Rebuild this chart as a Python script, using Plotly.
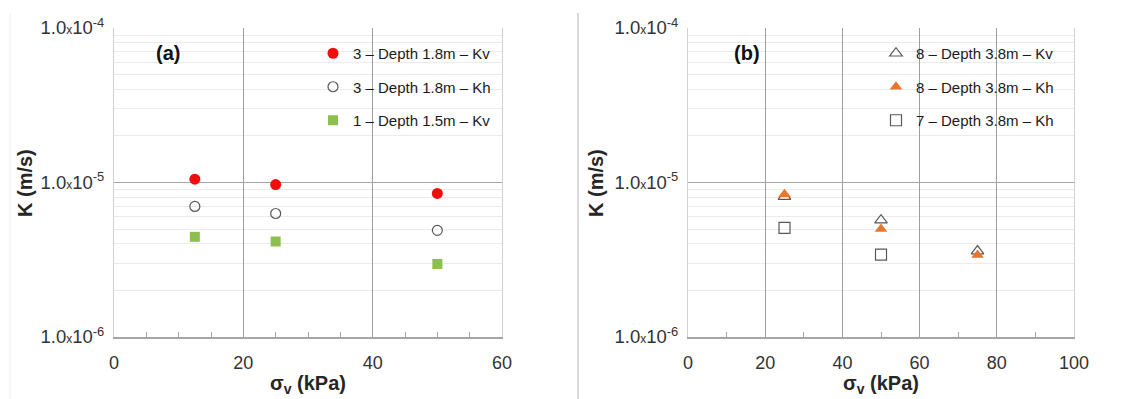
import plotly.graph_objects as go

# ---------------- data ----------------
x_a = [12.5, 25, 50]
kv_3_18 = [1.05e-5, 9.7e-6, 8.5e-6]
kh_3_18 = [7.0e-6, 6.3e-6, 4.9e-6]
kv_1_15 = [4.45e-6, 4.15e-6, 2.97e-6]

x_b = [25, 50, 75]
kv_8_38 = [8.1e-6, 5.7e-6, 3.6e-6]
kh_8_38 = [8.4e-6, 5.0e-6, 3.4e-6]
x_b7 = [25, 50]
kh_7_38 = [5.08e-6, 3.41e-6]

names_a = ["3 \u2013 Depth 1.8m \u2013 Kv", "3 \u2013 Depth 1.8m \u2013 Kh", "1 \u2013 Depth 1.5m \u2013 Kv"]
names_b = ["8 \u2013 Depth 3.8m \u2013 Kv", "8 \u2013 Depth 3.8m \u2013 Kh", "7 \u2013 Depth 3.8m \u2013 Kh"]

y_tickvals = [1e-6, 1e-5, 1e-4]
y_ticktext = ["1.0<span style='font-size:12px'>x</span>10<sup>-6</sup>",
              "1.0<span style='font-size:12px'>x</span>10<sup>-5</sup>",
              "1.0<span style='font-size:12px'>x</span>10<sup>-4</sup>"]
minor_vals = [m * 10.0 ** e for e in (-6, -5) for m in range(2, 10)]

FONT = "Liberation Sans, Arial, sans-serif"
RED = "#F20D0D"
GREEN = "#8DBF4E"
ORANGE = "#E5772F"
GRAY = "#595959"

fig = go.Figure()

# left panel
fig.add_trace(go.Scatter(x=x_a, y=kv_3_18, mode="markers", name=names_a[0],
                         marker=dict(symbol="circle", size=11, color=RED),
                         xaxis="x", yaxis="y", legend="legend", legendgroup="a1"))
fig.add_trace(go.Scatter(x=x_a, y=kh_3_18, mode="markers", name=names_a[1],
                         marker=dict(symbol="circle-open", size=10, color=GRAY, line=dict(width=1.2)),
                         xaxis="x", yaxis="y", legend="legend", legendgroup="a2"))
fig.add_trace(go.Scatter(x=x_a, y=kv_1_15, mode="markers", name=names_a[2],
                         marker=dict(symbol="square", size=10, color=GREEN),
                         xaxis="x", yaxis="y", legend="legend", legendgroup="a3"))

# right panel
fig.add_trace(go.Scatter(x=x_b, y=kv_8_38, mode="markers", name=names_b[0],
                         marker=dict(symbol="triangle-up-open", size=11, color=GRAY, line=dict(width=1.2)),
                         xaxis="x2", yaxis="y2", legend="legend2", legendgroup="b1"))
fig.add_trace(go.Scatter(x=x_b, y=kh_8_38, mode="markers", name=names_b[1],
                         marker=dict(symbol="triangle-up", size=11, color=ORANGE),
                         xaxis="x2", yaxis="y2", legend="legend2", legendgroup="b2"))
fig.add_trace(go.Scatter(x=x_b7, y=kh_7_38, mode="markers", name=names_b[2],
                         marker=dict(symbol="square-open", size=11, color=GRAY, line=dict(width=1.2)),
                         xaxis="x2", yaxis="y2", legend="legend2", legendgroup="b3"))

W, H = 1141, 399
def fx(px):
    return px / W
def fy(py):
    return 1 - py / H

ydom = [fy(337), fy(28)]
xdom1 = [fx(114), fx(502)]
xdom2 = [fx(688), fx(1074)]

def xaxis(dom, rng, dtick, mdtick):
    return dict(domain=dom, range=rng, dtick=dtick, tick0=0, showgrid=True, gridcolor="#9e9e9e",
                gridwidth=1, showline=True, linecolor="#a6a6a6", linewidth=1.5,
                ticks="", zeroline=False, automargin=False,
                tickfont=dict(family=FONT, size=18, color="#333333"),
                ticklabelstandoff=9,
                minor=dict(dtick=mdtick, tick0=0, ticks="inside", ticklen=5, tickcolor="#a6a6a6",
                           showgrid=False))

def yaxis(anchor):
    return dict(domain=ydom, type="log", range=[-6, -4], anchor=anchor,
                tickmode="array", tickvals=y_tickvals, ticktext=y_ticktext,
                showgrid=True, gridcolor="#a6a6a6", gridwidth=1,
                showline=True, linecolor="#d0d0d0", linewidth=1, mirror=True,
                ticks="", zeroline=False, automargin=False,
                tickfont=dict(family=FONT, size=18.5, color="#333333"),
                ticklabelstandoff=5,
                minor=dict(tickmode="array", tickvals=minor_vals, showgrid=True,
                           gridcolor="#ebebeb", gridwidth=1, ticks=""))

leg_common = dict(font=dict(family=FONT, size=15, color="#1a1a1a"), bgcolor="rgba(0,0,0,0)",
                  tracegroupgap=11, traceorder="grouped", itemwidth=30,
                  xanchor="left", yanchor="top", y=fy(37), itemclick=False)

fig.update_layout(
    width=W, height=H, margin=dict(l=0, r=0, t=0, b=0, autoexpand=False),
    paper_bgcolor="white", plot_bgcolor="white",
    showlegend=True,
    xaxis=xaxis(xdom1, [0, 60], 20, 5) | dict(anchor="y"),
    yaxis=yaxis("x"),
    xaxis2=xaxis(xdom2, [0, 100], 20, 10) | dict(anchor="y2"),
    yaxis2=yaxis("x2"),
    legend=leg_common | dict(x=fx(313)),
    legend2=leg_common | dict(x=fx(876)),
    font=dict(family=FONT),
)

# axis titles and panel labels
ann = []
for cx in (fx(308), fx(881)):
    ann.append(dict(x=cx, y=fy(384), xref="paper", yref="paper", showarrow=False,
                    xanchor="center", yanchor="middle",
                    text="<b>\u03c3<sub>v</sub> (kPa)</b>", font=dict(family=FONT, size=20, color="#262626")))
for cx in (fx(25), fx(596)):
    ann.append(dict(x=cx, y=fy(183), xref="paper", yref="paper", showarrow=False, textangle=-90,
                    xanchor="center", yanchor="middle",
                    text="<b>K (m/s)</b>", font=dict(family=FONT, size=20, color="#262626")))
ann.append(dict(x=fx(168), y=fy(53), xref="paper", yref="paper", showarrow=False,
                xanchor="center", yanchor="middle",
                text="<b>(a)</b>", font=dict(family=FONT, size=20, color="#111111")))
ann.append(dict(x=fx(747), y=fy(53), xref="paper", yref="paper", showarrow=False,
                xanchor="center", yanchor="middle",
                text="<b>(b)</b>", font=dict(family=FONT, size=20, color="#111111")))
fig.update_layout(annotations=ann)

# faint panel separators
fig.update_layout(shapes=[
    dict(type="line", xref="paper", yref="paper", x0=fx(578), x1=fx(578), y0=fy(13), y1=0,
         line=dict(color="#d9d9d9", width=2)),
    dict(type="line", xref="paper", yref="paper", x0=fx(10), x1=fx(10), y0=fy(13), y1=0,
         line=dict(color="#f0f0f0", width=1)),
])

fig.write_html("out.html")
